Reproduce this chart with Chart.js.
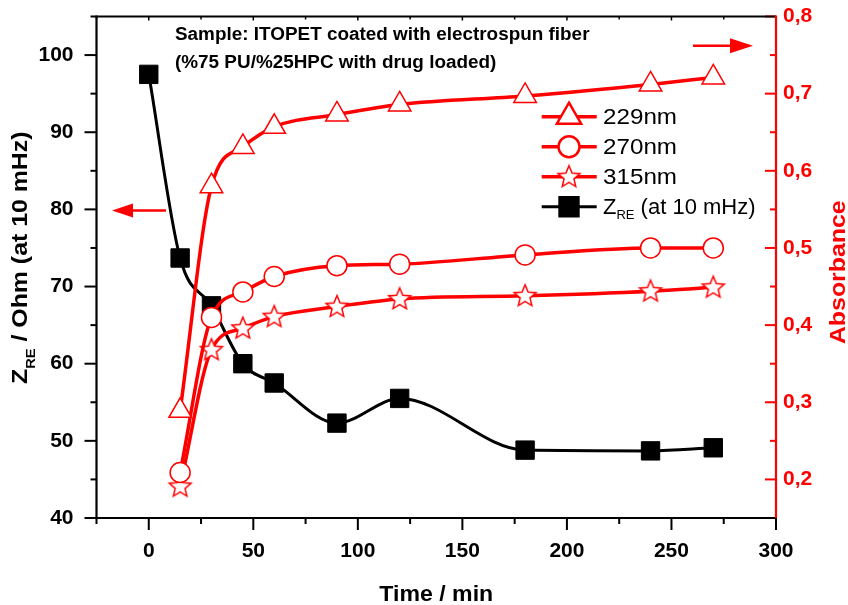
<!DOCTYPE html>
<html><head><meta charset="utf-8">
<script src="https://cdn.jsdelivr.net/npm/chart.js@4/dist/chart.umd.min.js"></script>
<style>html,body{margin:0;padding:0;background:#fff;} #wrap{width:848px;height:605px;}</style>
</head><body><div id="wrap"><canvas id="c" width="848" height="605"></canvas></div>
<script>
// ---- data ----
const timeZ = [0, 15, 30, 45, 60, 90, 120, 180, 240, 270];
const zre = [97.5, 73.7, 67.5, 60.0, 57.5, 52.3, 55.5, 48.8, 48.7, 49.1];
const timeAbs = [15, 30, 45, 60, 90, 120, 180, 240, 270];
const abs229 = [0.289, 0.580, 0.631, 0.657, 0.673, 0.686, 0.697, 0.712, 0.721];
const abs270 = [0.209, 0.410, 0.443, 0.463, 0.477, 0.479, 0.491, 0.500, 0.500];
const abs315 = [0.191, 0.368, 0.396, 0.411, 0.424, 0.434, 0.438, 0.444, 0.449];
const xTicks = [0, 50, 100, 150, 200, 250, 300];
const xMinor = [-25, 25, 75, 125, 175, 225, 275];
const zTicks = [40, 50, 60, 70, 80, 90, 100];
const zMinor = [45, 55, 65, 75, 85, 95, 105];
const absTicks = [0.2, 0.3, 0.4, 0.5, 0.6, 0.7, 0.8];
const absMinor = [0.15, 0.25, 0.35, 0.45, 0.55, 0.65, 0.75];
const seriesNames = ['229nm', '270nm', '315nm', 'Z'];

const RED = '#ff0000';
const FONT = '"Liberation Sans", Arial, sans-serif';

function pts(xs, ys) { return xs.map((x, i) => ({x: x, y: ys[i]})); }

// five-point star marker
function makeStar() {
  const c = document.createElement('canvas');
  c.width = 28; c.height = 28;
  const g = c.getContext('2d');
  const cx = 14, cy = 14.5, R = 11.5, r = 5.2;
  g.beginPath();
  for (let i = 0; i < 10; i++) {
    const a = -Math.PI / 2 + i * Math.PI / 5;
    const rr = i % 2 ? r : R;
    const px = cx + rr * Math.cos(a), py = cy + rr * Math.sin(a);
    i ? g.lineTo(px, py) : g.moveTo(px, py);
  }
  g.closePath();
  g.fillStyle = '#fff'; g.fill();
  g.strokeStyle = RED; g.lineWidth = 1.5; g.stroke();
  return c;
}
const star = makeStar();

// text drawn with a horizontal stretch along its own direction
function stext(ctx, str, x, y, sx) {
  ctx.save(); ctx.translate(x, y); ctx.scale(sx, 1); ctx.fillText(str, 0, 0); ctx.restore();
  return ctx.measureText(str).width * sx;
}

const decor = {
  id: 'decor',
  afterDraw(chart) {
    const ctx = chart.ctx;
    const xs = chart.scales.x, yl = chart.scales.y, yr = chart.scales.y1;
    const L = chart.chartArea.left, R = chart.chartArea.right, T = chart.chartArea.top, B = chart.chartArea.bottom;
    ctx.save();
    ctx.lineCap = 'butt';
    function line(x1, y1, x2, y2, col, w) {
      ctx.beginPath(); ctx.moveTo(x1, y1); ctx.lineTo(x2, y2);
      ctx.strokeStyle = col; ctx.lineWidth = w; ctx.stroke();
    }
    // ticks
    xTicks.forEach(v => { const p = xs.getPixelForValue(v); line(p, B, p, B + 12, '#000', 2); line(p, T, p, T + 4, '#000', 1.5); });
    xMinor.forEach(v => { const p = xs.getPixelForValue(v); line(p, B, p, B + 6, '#000', 2); line(p, T, p, T + 3, '#000', 1.5); });
    zTicks.forEach(v => { const p = yl.getPixelForValue(v); line(L - 12, p, L, p, '#000', 2); });
    zMinor.forEach(v => { const p = yl.getPixelForValue(v); line(L - 6, p, L, p, '#000', 2); });
    absTicks.forEach(v => { const p = yr.getPixelForValue(v); line(R - 11, p, R, p, RED, 2); });
    absMinor.forEach(v => { const p = yr.getPixelForValue(v); line(R - 6, p, R, p, RED, 2); });
    // frame
    line(L, T, R, T, '#000', 2);
    line(L - 1, B, R, B, '#000', 2.2);
    line(L, T - 1, L, B + 1, '#000', 2.2);
    line(R, T - 1, R, B, RED, 2.2);

    // axis titles
    ctx.fillStyle = '#000';
    ctx.font = 'bold 22px ' + FONT;
    ctx.textAlign = 'left'; ctx.textBaseline = 'alphabetic';
    const tw = ctx.measureText('Time / min').width * 1.05;
    stext(ctx, 'Time / min', (L + R) / 2 - tw / 2, 601, 1.05);

    // left title with subscript
    ctx.save();
    ctx.translate(27, 384);
    ctx.rotate(-Math.PI / 2);
    ctx.textAlign = 'left';
    const S = 1.13;
    ctx.font = 'bold 22px ' + FONT;
    let w = stext(ctx, 'Z', 0, 0, S);
    ctx.font = 'bold 13px ' + FONT;
    w += stext(ctx, 'RE', w, 8, S);
    ctx.font = 'bold 22px ' + FONT;
    stext(ctx, ' / Ohm (at 10 mHz)', w, 0, S);
    ctx.restore();

    // right title
    ctx.save();
    ctx.translate(845, (T + B) / 2 + 5);
    ctx.rotate(-Math.PI / 2);
    ctx.textAlign = 'left';
    ctx.fillStyle = RED;
    ctx.font = 'bold 22px ' + FONT;
    const aw = ctx.measureText('Absorbance').width * S;
    stext(ctx, 'Absorbance', -aw / 2, 0, S);
    ctx.restore();

    // annotation
    ctx.fillStyle = '#000';
    ctx.textAlign = 'left';
    ctx.font = 'bold 18px ' + FONT;
    stext(ctx, 'Sample: ITOPET coated with electrospun fiber', 175, 40, 1.05);
    stext(ctx, '(%75 PU/%25HPC with drug loaded)', 175, 68, 1.05);

    // arrows
    ctx.fillStyle = RED;
    line(131, 210.5, 166, 210.5, RED, 2.5);
    ctx.beginPath(); ctx.moveTo(112, 210.5); ctx.lineTo(133, 203.5); ctx.lineTo(133, 217.5); ctx.closePath(); ctx.fill();
    line(693, 45.7, 732, 45.7, RED, 2.5);
    ctx.beginPath(); ctx.moveTo(753, 45.7); ctx.lineTo(730, 38.2); ctx.lineTo(730, 53.2); ctx.closePath(); ctx.fill();

    // legend
    const rows = [116.7, 146.7, 176.7, 206.7];
    const ds = chart.data.datasets;
    rows.forEach((ry, i) => {
      const d = ds[i];
      line(541.7, ry, 596.7, ry, d.borderColor, d.borderWidth);
      Chart.helpers.drawPoint(ctx, {
        pointStyle: d.pointStyle, radius: d.pointRadius, borderWidth: d.pointBorderWidth, rotation: 0
      }, 569, ry);
      ctx.fillStyle = d.pointBackgroundColor; ctx.strokeStyle = d.pointBorderColor; ctx.lineWidth = d.pointBorderWidth;
      if (!(d.pointStyle instanceof HTMLCanvasElement)) { ctx.fill(); ctx.stroke(); }
      ctx.fillStyle = '#000';
      ctx.textAlign = 'left'; ctx.textBaseline = 'middle';
      ctx.font = '22px ' + FONT;
      if (i < 3) {
        stext(ctx, seriesNames[i], 603, ry + 1, 1.1);
      } else {
        let lw = stext(ctx, seriesNames[i], 603, ry + 1, 1.0);
        ctx.font = '13px ' + FONT;
        lw += stext(ctx, 'RE', 603 + lw, ry + 9, 1.0);
        ctx.font = '22px ' + FONT;
        stext(ctx, ' (at 10 mHz)', 603 + lw, ry + 1, 1.0);
      }
    });
    ctx.restore();
  }
};

function noPadY(s) { s.paddingTop = 0; s.paddingBottom = 0; }

const chart = new Chart(document.getElementById('c'), {
  type: 'line',
  data: {
    datasets: [
      { label: '229nm', data: pts(timeAbs, abs229), yAxisID: 'y1', borderColor: RED, borderWidth: 3.5,
        pointStyle: 'triangle', pointRadius: 13, pointBackgroundColor: '#fff', pointBorderColor: RED, pointBorderWidth: 1.5,
        cubicInterpolationMode: 'monotone', fill: false },
      { label: '270nm', data: pts(timeAbs, abs270), yAxisID: 'y1', borderColor: RED, borderWidth: 3.5,
        pointStyle: 'circle', pointRadius: 10, pointBackgroundColor: '#fff', pointBorderColor: RED, pointBorderWidth: 1.5,
        cubicInterpolationMode: 'monotone', fill: false },
      { label: '315nm', data: pts(timeAbs, abs315), yAxisID: 'y1', borderColor: RED, borderWidth: 3.5,
        pointStyle: star, pointRadius: 12, pointBackgroundColor: '#fff', pointBorderColor: RED, pointBorderWidth: 1.5,
        cubicInterpolationMode: 'monotone', fill: false },
      { label: 'ZRE (at 10 mHz)', data: pts(timeZ, zre), yAxisID: 'y', borderColor: '#000', borderWidth: 3,
        pointStyle: 'rect', pointRadius: 13, pointBackgroundColor: '#000', pointBorderColor: '#000', pointBorderWidth: 1,
        cubicInterpolationMode: 'monotone', fill: false }
    ]
  },
  options: {
    responsive: false,
    animation: false,
    devicePixelRatio: 1,
    layout: { padding: { top: 16.5, left: 0, right: 0, bottom: 0 } },
    plugins: { legend: { display: false }, tooltip: { enabled: false } },
    events: [],
    scales: {
      x: {
        type: 'linear', position: 'bottom', min: -25, max: 300,
        afterBuildTicks: s => { s.ticks = xTicks.map(v => ({value: v})); },
        afterFit: s => { s.height = 87; s.paddingLeft = 0; s.paddingRight = 0; },
        grid: { display: false, drawTicks: false }, border: { display: false },
        ticks: { color: '#000', font: { family: FONT, size: 21, weight: 'bold' }, padding: 21, maxRotation: 0, autoSkip: false }
      },
      y: {
        type: 'linear', position: 'left', min: 40, max: 105,
        afterBuildTicks: s => { s.ticks = zTicks.map(v => ({value: v})); },
        afterFit: s => { s.width = 96.5; noPadY(s); },
        grid: { display: false, drawTicks: false }, border: { display: false },
        ticks: { color: '#000', font: { family: FONT, size: 21, weight: 'bold' }, padding: 23, autoSkip: false }
      },
      y1: {
        type: 'linear', position: 'right', min: 0.15, max: 0.8,
        afterBuildTicks: s => { s.ticks = absTicks.map(v => ({value: v})); },
        afterFit: s => { s.width = 72; noPadY(s); },
        grid: { display: false, drawTicks: false }, border: { display: false },
        ticks: { color: RED, font: { family: FONT, size: 21, weight: 'bold' }, padding: 7, autoSkip: false,
          callback: v => v.toFixed(1).replace('.', ',') }
      }
    }
  },
  plugins: [decor]
});
</script>
</body></html>
